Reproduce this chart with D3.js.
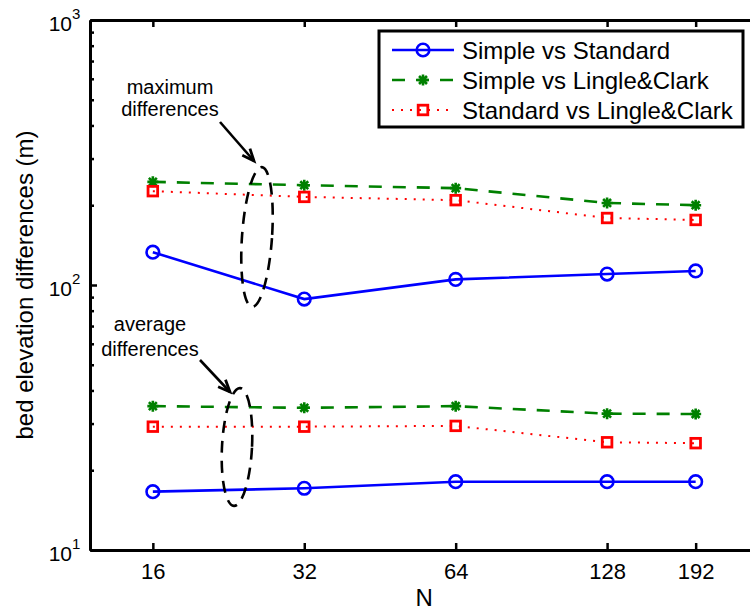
<!DOCTYPE html>
<html>
<head>
<meta charset="utf-8">
<script src="https://cdn.jsdelivr.net/npm/d3@7"></script>
<style>
  html, body { margin: 0; padding: 0; background: #fff; }
  svg { display: block; font-family: "Liberation Sans", Arial, sans-serif; }
</style>
</head>
<body>
<svg id="chart" width="750" height="616"></svg>
<script>
// Grid resolution N on the x axis
const nValues = [16, 32, 64, 128, 192];

// Maximum bed elevation differences (m)
const maxSimpleStandard = [133, 88.5, 105, 110, 113];
const maxSimpleLingle   = [245, 238, 232, 204, 200];
const maxStandardLingle = [226, 215, 209, 179, 176];

// Average bed elevation differences (m)
const avgSimpleStandard = [16.6, 17.1, 18.1, 18.1, 18.1];
const avgSimpleLingle   = [34.9, 34.4, 34.9, 32.7, 32.6];
const avgStandardLingle = [29.2, 29.2, 29.4, 25.5, 25.3];

const seriesNames = ["Simple vs Standard", "Simple vs Lingle&Clark", "Standard vs Lingle&Clark"];
const yMajorTicks = [10, 100, 1000];
const yExponents  = ["1", "2", "3"];

const svg = d3.select("#chart");
const mLeft = 90, mRight = 758.5, mTop = 20, mBottom = 550;

const x = d3.scaleLog().base(2).domain([12, 256]).range([mLeft, mRight]);
const y = d3.scaleLog().domain([10, 1000]).range([mBottom, mTop]);

const styles = [
  { color: "#0000ff", width: 2.6, dash: null,    marker: "circle" },
  { color: "#008000", width: 2.6, dash: "13,11", marker: "star" },
  { color: "#ff0000", width: 2,   dash: "2,7",   marker: "square" }
];

// ---- axes ----
const minorTicks = [];
[10, 100].forEach(d => { for (let k = 2; k <= 9; k++) minorTicks.push(d * k); });

const gx = svg.append("g").attr("transform", `translate(0,${mBottom})`)
  .call(d3.axisBottom(x).tickValues(nValues).tickFormat(d3.format("d"))
    .tickSizeInner(-7).tickSizeOuter(0).tickPadding(13));
gx.selectAll("text").attr("font-size", 22).attr("fill", "#000")
  .attr("font-family", "Liberation Sans, Arial, sans-serif");

const gxTop = svg.append("g").attr("transform", `translate(0,${mTop})`)
  .call(d3.axisTop(x).tickValues(nValues).tickFormat("")
    .tickSizeInner(-7).tickSizeOuter(0));

const gyMinor = svg.append("g").attr("transform", `translate(${mLeft},0)`)
  .call(d3.axisLeft(y).tickValues(minorTicks).tickFormat("")
    .tickSizeInner(-4).tickSizeOuter(0));

const gy = svg.append("g").attr("transform", `translate(${mLeft},0)`)
  .call(d3.axisLeft(y).tickValues(yMajorTicks).tickFormat("")
    .tickSizeInner(-7).tickSizeOuter(0));

// power-of-ten labels with superscript exponents
gy.selectAll(".tick").each(function(d, i) {
  const g = d3.select(this);
  g.append("text").attr("x", -18).attr("y", 10)
    .attr("text-anchor", "end").attr("font-size", 21).attr("fill", "#000")
    .attr("font-family", "Liberation Sans, Arial, sans-serif")
    .text("10");
  g.append("text").attr("x", -18).attr("y", -2)
    .attr("text-anchor", "start").attr("font-size", 15).attr("fill", "#000")
    .attr("font-family", "Liberation Sans, Arial, sans-serif")
    .text(yExponents[i]);
});

[gx, gxTop, gy, gyMinor].forEach(g => {
  g.selectAll(".domain").attr("stroke", "#000").attr("stroke-width", 3);
  g.selectAll(".tick line").attr("stroke", "#000").attr("stroke-width", 2.5);
});

// axis titles
svg.append("text").attr("x", (mLeft + mRight) / 2).attr("y", 606)
  .attr("text-anchor", "middle").attr("font-size", 24).text("N");
svg.append("text").attr("transform", `translate(33,${(mTop + mBottom) / 2}) rotate(-90)`)
  .attr("text-anchor", "middle").attr("font-size", 24)
  .text("bed elevation differences (m)");

// ---- markers ----
function drawMarker(g, type, cx, cy, color) {
  if (type === "circle") {
    g.append("circle").attr("cx", cx).attr("cy", cy).attr("r", 6.3)
      .attr("fill", "none").attr("stroke", color).attr("stroke-width", 2.6);
  } else if (type === "square") {
    g.append("rect").attr("x", cx - 4.8).attr("y", cy - 4.8)
      .attr("width", 9.6).attr("height", 9.6)
      .attr("fill", "none").attr("stroke", color).attr("stroke-width", 2.8);
  } else {
    const s = 5.5, d = s * 0.72;
    g.append("path")
      .attr("d", `M${cx - s},${cy}H${cx + s}M${cx},${cy - s}V${cy + s}` +
                 `M${cx - d},${cy - d}L${cx + d},${cy + d}M${cx - d},${cy + d}L${cx + d},${cy - d}`)
      .attr("fill", "none").attr("stroke", color).attr("stroke-width", 2.6);
  }
}

// ---- series ----
const groups = [
  [maxSimpleStandard, maxSimpleLingle, maxStandardLingle],
  [avgSimpleStandard, avgSimpleLingle, avgStandardLingle]
];
const line = d3.line().x(d => x(d[0])).y(d => y(d[1]));
const plot = svg.append("g");

groups.forEach(set => {
  set.forEach((vals, si) => {
    const st = styles[si];
    const pts = nValues.map((n, i) => [n, vals[i]]);
    plot.append("path").attr("d", line(pts))
      .attr("fill", "none").attr("stroke", st.color).attr("stroke-width", st.width)
      .attr("stroke-dasharray", st.dash);
    pts.forEach(p => drawMarker(plot, st.marker, x(p[0]), y(p[1]), st.color));
  });
});

// ---- annotations: dashed ellipses and arrows ----
const ann = svg.append("g");
function ellipse(cx, cy, rx, ry, rot) {
  ann.append("ellipse").attr("cx", 0).attr("cy", 0).attr("rx", rx).attr("ry", ry)
    .attr("transform", `translate(${cx},${cy}) rotate(${rot})`)
    .attr("fill", "none").attr("stroke", "#000").attr("stroke-width", 2.6)
    .attr("stroke-dasharray", "12,8");
}
function arrow(x1, y1, x2, y2) {
  ann.append("line").attr("x1", x1).attr("y1", y1).attr("x2", x2).attr("y2", y2)
    .attr("stroke", "#000").attr("stroke-width", 2.6);
  const a = Math.atan2(y2 - y1, x2 - x1), L = 13, w = 0.4;
  ann.append("path")
    .attr("d", `M${x2 - L * Math.cos(a - w)},${y2 - L * Math.sin(a - w)}L${x2},${y2}` +
               `L${x2 - L * Math.cos(a + w)},${y2 - L * Math.sin(a + w)}`)
    .attr("fill", "none").attr("stroke", "#000").attr("stroke-width", 2.8)
    .attr("stroke-linejoin", "miter");
}
function label(cx, lines, ys) {
  lines.forEach((t, i) => ann.append("text").attr("x", cx).attr("y", ys[i])
    .attr("text-anchor", "middle").attr("font-size", 20).text(t));
}

ellipse(257, 237, 15, 70, 4);
arrow(220, 122, 254, 161);
label(170, ["maximum", "differences"], [94, 116]);

ellipse(237, 447, 15, 59, 3);
arrow(200, 360, 230, 392);
label(150, ["average", "differences"], [331, 356]);

// ---- legend ----
const lg = svg.append("g");
lg.append("rect").attr("x", 379).attr("y", 31).attr("width", 364).attr("height", 96)
  .attr("fill", "#fff").attr("stroke", "#000").attr("stroke-width", 3);
seriesNames.forEach((name, i) => {
  const st = styles[i], ly = 50 + i * 30;
  lg.append("line").attr("x1", 392).attr("x2", 454).attr("y1", ly).attr("y2", ly)
    .attr("stroke", st.color).attr("stroke-width", st.width)
    .attr("stroke-dasharray", st.dash);
  drawMarker(lg, st.marker, 423, ly, st.color);
  lg.append("text").attr("x", 462).attr("y", ly + 8.5).attr("font-size", 24).text(name);
});
</script>
</body>
</html>
